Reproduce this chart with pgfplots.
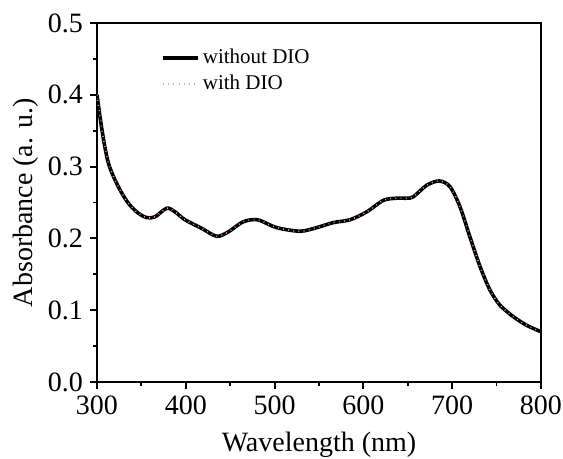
\documentclass[border=0pt]{standalone}
\usepackage{fontspec}
\setmainfont{Liberation Serif}
\usepackage{pgfplots}
\pgfplotsset{compat=1.18}
\begin{document}
\begin{tikzpicture}
\begin{axis}[
  at={(0,0)}, anchor=south west,
  scale only axis, width=222pt, height=179.5pt,
  xmin=300, xmax=800, ymin=0, ymax=0.5,
  xtick={300,400,...,800}, ytick={0,0.1,...,0.5},
  minor x tick num=1, minor y tick num=1,
  tick align=outside, tick pos=left,
  major tick length=3.5pt, minor tick length=2.2pt,
  major tick style={black, line width=1pt},
  minor tick style={black, line width=0.9pt},
  axis line style={line width=1pt},
  yticklabel style={/pgf/number format/fixed, /pgf/number format/fixed zerofill, /pgf/number format/precision=1},
  /pgf/number format/assume math mode=true,
  ticklabel style={font=\fontsize{14}{16}\selectfont},
  xlabel={Wavelength (nm)}, ylabel={Absorbance (a. u.)},
  label style={font=\fontsize{14}{16}\selectfont},
  xlabel style={at={(axis description cs:0.5,0)}, anchor=center, yshift=-31.5pt},
  ylabel style={at={(axis description cs:0,0.5)}, anchor=center, yshift=35.5pt},
  legend style={draw=none, fill=none, at={(axis description cs:0.13,0.95)}, anchor=north west,
    font=\fontsize{10.5}{12}\selectfont, row sep=0pt},
  legend cell align=left,
]
\addplot[black, line width=1.8pt, smooth, tension=0.5] coordinates {
(300,0.400) (305.6,0.351) (312.8,0.305) (324,0.272) (335.3,0.249) (346.6,0.235)
(356,0.229) (365.3,0.230) (378.5,0.242) (387.8,0.237) (399,0.226) (417.9,0.214)
(434.7,0.203) (447.8,0.209) (462.8,0.222) (474,0.226) (483.6,0.225) (502.4,0.215)
(528.6,0.210) (547.4,0.215) (566.1,0.222) (585,0.226) (603.8,0.237) (622.5,0.253)
(637.6,0.256) (648.8,0.256) (656.3,0.258) (671.3,0.274) (685.5,0.280) (697.5,0.272)
(708.8,0.244) (720,0.202) (731.3,0.161) (742.6,0.128) (753.8,0.107) (768.8,0.091)
(783.8,0.079) (800,0.070)
};
\addlegendentry{without DIO}
\addplot[red!40, line width=0.8pt, dash pattern=on 0.4pt off 2.2pt, smooth, tension=0.5] coordinates {
(300,0.400) (305.6,0.351) (312.8,0.305) (324,0.272) (335.3,0.249) (346.6,0.235)
(356,0.229) (365.3,0.230) (378.5,0.242) (387.8,0.237) (399,0.226) (417.9,0.214)
(434.7,0.203) (447.8,0.209) (462.8,0.222) (474,0.226) (483.6,0.225) (502.4,0.215)
(528.6,0.210) (547.4,0.215) (566.1,0.222) (585,0.226) (603.8,0.237) (622.5,0.253)
(637.6,0.256) (648.8,0.256) (656.3,0.258) (671.3,0.274) (685.5,0.280) (697.5,0.272)
(708.8,0.244) (720,0.202) (731.3,0.161) (742.6,0.128) (753.8,0.107) (768.8,0.091)
(783.8,0.079) (800,0.070)
};
\addlegendentry{with DIO}
\draw[line width=1pt] (rel axis cs:0,1) -- (rel axis cs:1,1) -- (rel axis cs:1,0);
\end{axis}
\pgfresetboundingbox
\path (-48.5pt,-38.5pt) rectangle (233pt,191pt);
\end{tikzpicture}
\end{document}
